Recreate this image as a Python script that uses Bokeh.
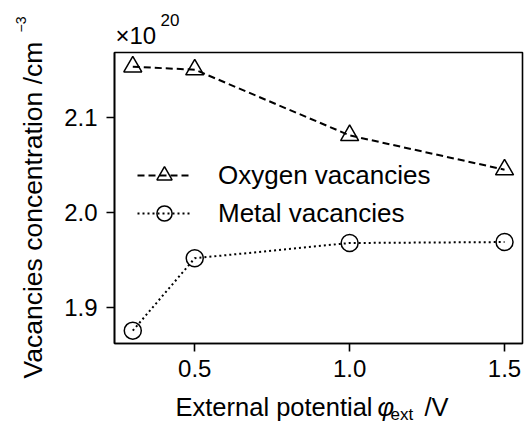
import numpy as np
from bokeh.plotting import figure
from bokeh.models import Range1d, FixedTicker, PrintfTickFormatter, Legend, LegendItem
from bokeh.core.properties import value
from bokeh.embed import file_html
from bokeh.resources import INLINE

# Data (concentration in units of 1e20 cm^-3)
potential = [0.3, 0.5, 1.0, 1.5]
oxygen_vac = [2.153, 2.150, 2.081, 2.045]
metal_vac = [1.876, 1.952, 1.968, 1.969]
x_ticks = [0.5, 1.0, 1.5]
y_ticks = [1.9, 2.0, 2.1]
series_names = ["Oxygen vacancies", "Metal vacancies"]

FONT = "Liberation Sans"
X0, X1 = 0.241, 1.558
Y0, Y1 = 1.8625, 2.168
W, H = 524, 423
BL, BR, BT, BB = 114, 2, 52, 80

p = figure(width=W, height=H, output_backend="svg", toolbar_location=None,
           x_range=Range1d(X0, X1), y_range=Range1d(Y0, Y1),
           min_border_left=BL, min_border_right=BR, min_border_top=BT, min_border_bottom=BB)
p.title.visible = False
p.xgrid.visible = False
p.ygrid.visible = False
p.background_fill_color = "white"
p.border_fill_color = "white"
p.outline_line_color = "black"
p.outline_line_width = 1.6

for ax in (p.xaxis[0], p.yaxis[0]):
    ax.axis_line_color = "black"
    ax.axis_line_width = 1.6
    ax.major_tick_line_color = "black"
    ax.major_tick_line_width = 1.6
    ax.major_tick_out = 8
    ax.major_tick_in = 0
    ax.minor_tick_line_color = None
    ax.major_label_text_font = FONT
    ax.major_label_text_font_size = "24px"
    ax.major_label_text_color = "black"
    ax.formatter = PrintfTickFormatter(format="%.1f")

p.xaxis[0].ticker = FixedTicker(ticks=x_ticks)
p.yaxis[0].ticker = FixedTicker(ticks=y_ticks)
p.xaxis[0].major_label_standoff = 8
p.yaxis[0].major_label_standoff = 9

l1 = p.line(potential, oxygen_vac, line_color="black", line_width=2, line_dash="7 4")
s1 = p.scatter(potential, oxygen_vac, marker="triangle", size=18, line_color="black",
               line_width=1.5, fill_alpha=0)
l2 = p.line(potential, metal_vac, line_color="black", line_width=2, line_dash="2 3")
s2 = p.scatter(potential, metal_vac, marker="circle", size=17, line_color="black",
               line_width=1.5, fill_alpha=0)

legend = Legend(items=[LegendItem(label=series_names[0], renderers=[l1, s1]),
                       LegendItem(label=series_names[1], renderers=[l2, s2])],
                location=(23, 111), border_line_alpha=0, background_fill_alpha=0,
                padding=0, margin=0, spacing=0, glyph_width=54, glyph_height=38,
                label_height=38, label_standoff=27, label_text_font=FONT,
                label_text_font_size="26px", label_text_baseline="middle",
                label_text_color="black")
p.add_layout(legend, "center")

# --- axis titles as text placed by page pixel position (overlay level: not clipped)
fw, fh = W - BL - BR, H - BT - BB

def px2x(px):
    return X0 + (px - BL) * (X1 - X0) / fw

def py2y(py):
    return Y1 - (py - BT) * (Y1 - Y0) / fh

def put(px, py, text, size, style="normal", angle=0.0):
    # px, py: wanted baseline-start position in page pixels
    s = float(size.replace("px", ""))
    shift = 0.34 * s
    if angle:
        px -= shift
    else:
        py -= shift
    p.text(x=[px2x(px)], y=[py2y(py)], text=[text], angle=angle,
           text_font=value(FONT), text_font_size=size, text_font_style=style,
           text_color="black", text_align="left", text_baseline="alphabetic",
           level="overlay")

put(175, 415.5, "External potential", "25.5px")
put(377, 415.5, "φ", "25.5px", style="italic")
put(390, 420, "ext", "17px")
put(424, 415.5, "/V", "25.5px")

put(42, 378, "Vacancies concentration /cm", "26.5px", angle=np.pi / 2)
put(25, 32, "−3", "14px", angle=np.pi / 2)

put(115, 43, "×10", "24px")
put(160, 25, "20", "17px")

open("out.html", "w").write(file_html(p, INLINE))
